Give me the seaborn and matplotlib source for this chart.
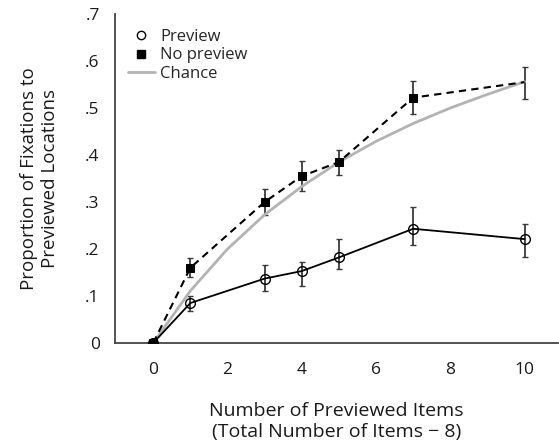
import matplotlib
matplotlib.use("Agg")
import matplotlib.pyplot as plt
import seaborn as sns
import pandas as pd
from matplotlib.lines import Line2D

sns.set_theme(style="white")
plt.rcParams['font.family'] = ['Open Sans', 'DejaVu Sans']

n_items = [0, 1, 3, 4, 5, 7, 10]
preview = [0.0, 0.085, 0.137, 0.153, 0.182, 0.243, 0.221]
preview_lo = [0.0, 0.067, 0.110, 0.122, 0.157, 0.209, 0.183]
preview_hi = [0.0, 0.101, 0.165, 0.172, 0.222, 0.290, 0.253]
nopreview = [0.0, 0.160, 0.300, 0.355, 0.385, 0.522, 0.555]
nopreview_lo = [0.0, 0.140, 0.272, 0.323, 0.358, 0.488, 0.520]
nopreview_hi = [0.0, 0.180, 0.328, 0.387, 0.410, 0.557, 0.588]
chance_x = [0, 1, 2, 3, 4, 5, 6, 7, 8, 9, 10]
chance = [0.0, 0.111, 0.200, 0.273, 0.333, 0.385, 0.429, 0.467, 0.500, 0.529, 0.556]

yticks = [0, 0.1, 0.2, 0.3, 0.4, 0.5, 0.6, 0.7]
ytick_labels = ["0", ".1", ".2", ".3", ".4", ".5", ".6", ".7"]
xticks = [0, 2, 4, 6, 8, 10]

fig = plt.figure(figsize=(5.59, 4.47), dpi=100)
ax = fig.add_axes([0.2057, 0.2327, 0.7925, 0.736])

df_p = pd.DataFrame({"x": n_items, "y": preview})
df_n = pd.DataFrame({"x": n_items, "y": nopreview})
df_c = pd.DataFrame({"x": chance_x, "y": chance})

err_col = "#3a3a3a"
for xs, lo, hi in [(n_items, preview_lo, preview_hi), (n_items, nopreview_lo, nopreview_hi)]:
    for x, l, h in zip(xs, lo, hi):
        if h - l > 0:
            ax.vlines(x, l, h, color=err_col, lw=1.3, zorder=2)
            ax.hlines([l, h], x - 0.08, x + 0.08, color=err_col, lw=1.0, zorder=2)

sns.lineplot(data=df_c, x="x", y="y", ax=ax, color="#b3b3b3", lw=2.0, zorder=3)
sns.lineplot(data=df_n, x="x", y="y", ax=ax, color="black", lw=1.5,
             linestyle=(0, (3.5, 2.5)), marker="s", markersize=6,
             markerfacecolor="black", markeredgecolor="black",
             markevery=[0, 1, 2, 3, 4, 5], zorder=4)
sns.lineplot(data=df_p, x="x", y="y", ax=ax, color="black", lw=1.3,
             marker="o", markersize=7, markerfacecolor="none",
             markeredgecolor="black", markeredgewidth=1.0, zorder=5)

ax.set_xlim(-1.03, 10.9)
ax.set_ylim(0, 0.7)
ax.set_xticks(xticks)
ax.set_xticklabels([str(t) for t in xticks])
ax.set_yticks(yticks)
ax.set_yticklabels(ytick_labels)
ax.tick_params(axis="both", which="both", direction="out", length=4, width=1,
               color="#444444", labelsize=12.5, labelcolor="#1a1a1a", pad=4)
ax.tick_params(axis="x", pad=10)
ax.tick_params(axis="y", pad=7)
for s in ["top", "right"]:
    ax.spines[s].set_visible(False)
for s in ["left", "bottom"]:
    ax.spines[s].set_color("#444444")
    ax.spines[s].set_linewidth(1.3)

ax.set_xlabel("Number of Previewed Items\n(Total Number of Items \u2212 8)",
              fontsize=14, color="#1a1a1a", labelpad=17, linespacing=1.2)
ax.set_ylabel("Proportion of Fixations to\nPreviewed Locations",
              fontsize=13.5, color="#1a1a1a", labelpad=19, linespacing=1.2)

handles = [
    Line2D([], [], ls="none", marker="o", markersize=6, markerfacecolor="none",
           markeredgecolor="black"),
    Line2D([], [], ls="none", marker="s", markersize=5.5, color="black"),
    Line2D([], [], color="#b3b3b3", lw=2.0),
]
ax.legend(handles, ["Preview", "No preview", "Chance"], loc="upper left",
          bbox_to_anchor=(0.003, 0.99), frameon=False, fontsize=12,
          handlelength=1.6, handletextpad=0.35, labelspacing=0.15,
          borderaxespad=0.3)

fig.savefig("out.png", dpi=100)
